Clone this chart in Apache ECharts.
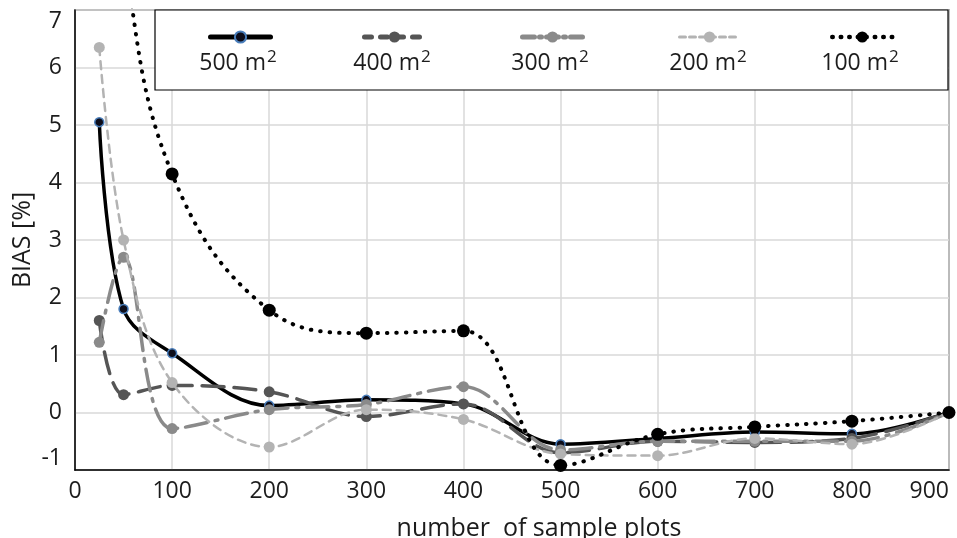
<!DOCTYPE html>
<html>
<head>
<meta charset="utf-8">
<script src="https://cdn.jsdelivr.net/npm/echarts@6/dist/echarts.min.js"></script>
<style>html,body{margin:0;padding:0;background:#fff;}#c{width:957px;height:538px;}</style>
</head>
<body>
<div id="c"></div>
<script>
var xValues = [25, 50, 100, 200, 300, 400, 500, 600, 700, 800, 900];
var s500 = [5.05, 1.8, 1.03, 0.12, 0.22, 0.15, -0.55, -0.45, -0.34, -0.37, 0];
var s400 = [1.6, 0.31, 0.47, 0.36, -0.07, 0.15, -0.7, -0.5, -0.52, -0.45, 0];
var s300 = [1.22, 2.7, -0.28, 0.05, 0.14, 0.45, -0.65, -0.5, -0.5, -0.5, 0];
var s200 = [6.35, 3.0, 0.52, -0.6, 0.05, -0.12, -0.72, -0.75, -0.45, -0.55, 0];
var s100 = [11.5, 8.0, 4.15, 1.78, 1.38, 1.42, -0.92, -0.38, -0.25, -0.15, 0];
var seriesNames = ['500 m²', '400 m²', '300 m²', '200 m²', '100 m²'];
var legendNumbers = ['500', '400', '300', '200', '100'];
var yTicks = [-1, 0, 1, 2, 3, 4, 5, 6, 7];
var xTicks = [0, 100, 200, 300, 400, 500, 600, 700, 800, 900];

function pairs(arr) { return xValues.map(function (x, i) { return [x, arr[i]]; }); }

var FONT = '"Open Sans", "Liberation Sans", sans-serif';
var TXT = '#1c1c1c';

var styles = [
  { data: s500, color: '#000', width: 3.5, type: 'solid', sym: 9, symColor: '#0d0d1a', border: '#4a7ebb', bw: 1.5, smooth: 0.35,
    lg: { width: 5, type: 'solid' } },
  { data: s400, color: '#555', width: 3.5, type: [22, 10], sym: 11, symColor: '#555', border: '#555', bw: 0, smooth: 0.35,
    lg: { width: 5, type: [7, 9] } },
  { data: s300, color: '#8a8a8a', width: 3.5, type: [22, 8, 3, 8], sym: 11, symColor: '#8a8a8a', border: '#8a8a8a', bw: 0, smooth: 0.35,
    lg: { width: 5, type: [12, 5, 2, 5] } },
  { data: s200, color: '#b3b3b3', width: 2.5, type: [8, 6], sym: 11, symColor: '#b3b3b3', border: '#b3b3b3', bw: 0, smooth: 0.35,
    lg: { width: 3, type: [6, 4] } },
  { data: s100, color: '#000', width: 4, type: [0.5, 9], sym: 13, symColor: '#000', border: '#000', bw: 0, smooth: 0.4,
    lg: { width: 4.5, type: [0.5, 8] } }
];

var series = styles.map(function (s, i) {
  return {
    name: seriesNames[i],
    type: 'line',
    data: pairs(s.data),
    smooth: s.smooth,
    clip: true,
    symbol: 'circle',
    symbolSize: s.sym,
    showAllSymbol: true,
    lineStyle: { color: s.color, width: s.width, type: s.type, cap: 'round' },
    itemStyle: { color: s.symColor, borderColor: s.border, borderWidth: s.bw },
    emphasis: { disabled: true },
    z: 2 + i
  };
});

var legendCenters = [238, 392, 550, 708, 860];
var legends = seriesNames.map(function (n, i) {
  return {
    data: [n],
    left: legendCenters[i] - 30,
    top: 30,
    itemWidth: 60,
    itemHeight: 14,
    padding: 0,
    z: 30,
    selectedMode: false,
    lineStyle: { width: styles[i].lg.width, type: styles[i].lg.type, cap: 'round' },
    formatter: function () { return ''; },
    textStyle: { fontSize: 1 }
  };
});

var graphics = [{
  type: 'rect',
  shape: { x: 155, y: 10, width: 793, height: 80 },
  style: { fill: '#fff', stroke: '#000', lineWidth: 1.2 },
  z: 20
}];
legendNumbers.forEach(function (n, i) {
  graphics.push({
    type: 'text',
    x: legendCenters[i],
    y: 63,
    z: 30,
    style: {
      text: '{a|' + n + ' m}{s|2}',
      textAlign: 'center',
      textVerticalAlign: 'middle',
      rich: {
        a: { fontSize: 23, fontFamily: FONT, fill: TXT, lineHeight: 28 },
        s: { fontSize: 17, fontFamily: FONT, fill: TXT, verticalAlign: 'top', padding: [0, 0, 10, 1], lineHeight: 28 }
      }
    }
  });
});

var option = {
  animation: false,
  backgroundColor: '#fff',
  grid: { left: 75, right: 8, top: 10, bottom: 68, show: true, borderColor: '#000', borderWidth: 1.2, backgroundColor: 'transparent',
    outerBoundsMode: 'none', containLabel: false },
  legend: legends,
  graphic: graphics,
  xAxis: {
    type: 'value',
    min: xTicks[0],
    max: xTicks[xTicks.length - 1],
    interval: 100,
    name: 'number  of sample plots',
    nameLocation: 'middle',
    nameGap: 46,
    nameTextStyle: { fontSize: 25, fontFamily: FONT, color: TXT, padding: [0, 0, 0, 54] },
    axisLine: { show: true, onZero: false, lineStyle: { color: '#000', width: 1.5 } },
    axisTick: { show: false },
    axisLabel: { fontSize: 23, fontFamily: FONT, color: TXT, margin: 10, alignMaxLabel: 'right' },
    splitLine: { show: true, lineStyle: { color: '#d9d9d9', width: 1.5 } }
  },
  yAxis: {
    type: 'value',
    min: yTicks[0],
    max: yTicks[yTicks.length - 1],
    interval: 1,
    name: 'BIAS [%]',
    nameLocation: 'middle',
    nameGap: 40,
    nameMoveOverlap: false,
    nameRotate: 90,
    nameTextStyle: { fontSize: 25, fontFamily: FONT, color: TXT },
    axisLine: { show: true, onZero: false, lineStyle: { color: '#000', width: 1.5 } },
    axisTick: { show: false },
    axisLabel: { fontSize: 23, fontFamily: FONT, color: TXT, margin: 13, verticalAlignMaxLabel: 'top', verticalAlignMinLabel: 'bottom' },
    splitLine: { show: true, lineStyle: { color: '#d9d9d9', width: 1.5 } }
  },
  series: series
};

var chart = echarts.init(document.getElementById('c'), null, { renderer: 'canvas' });
chart.setOption(option);
</script>
</body>
</html>
